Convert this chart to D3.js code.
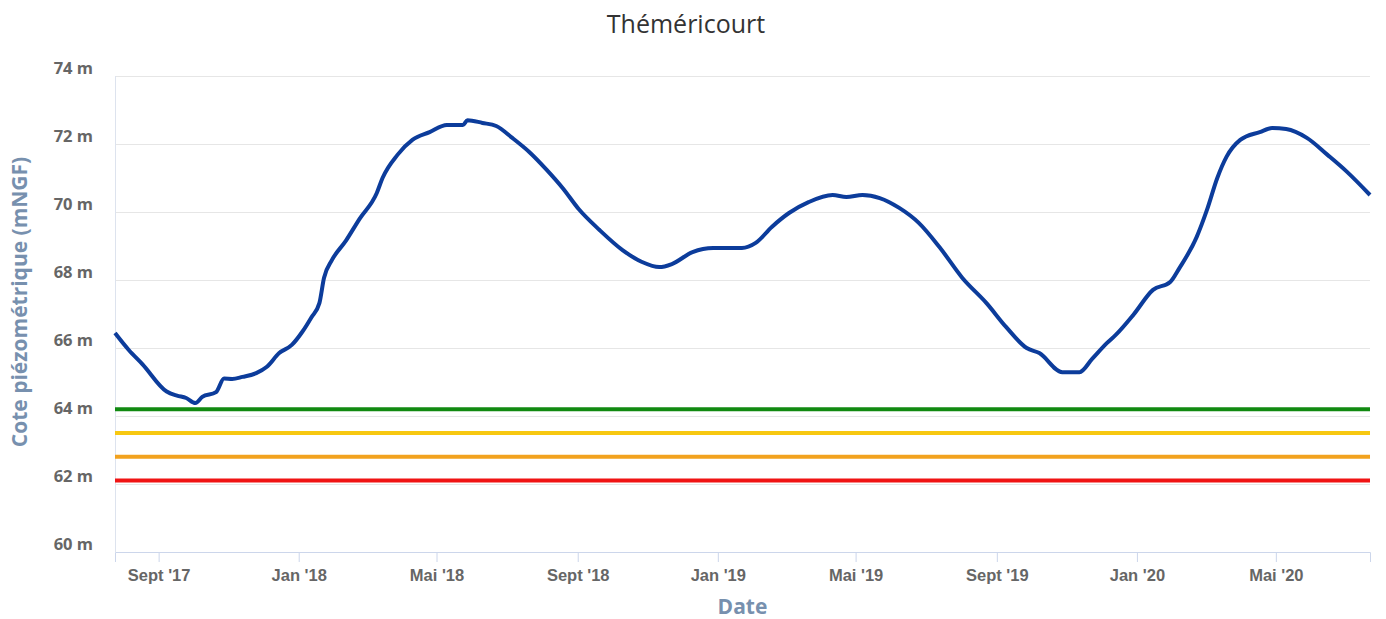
<!DOCTYPE html>
<html lang="fr">
<head>
<meta charset="UTF-8">
<title>Théméricourt</title>
<script src="https://d3js.org/d3.v7.min.js"></script>
<style>
    body { margin: 0; background: #fff; font-family: "Open Sans", Arial, sans-serif; }
    .grid line { stroke: #e6e6e6; stroke-width: 1px; }
    .tick-label { font-size: 16.5px; font-weight: bold; fill: #666; }
    .axis-title { font-size: 21px; font-weight: bold; fill: #7790ae; }
</style>
</head>
<body>
<svg width="1386" height="619"></svg>
<script>
    // niveau piézométrique relevé (date, m NGF)
    const dates = [
        "2017-07-25","2017-08-06","2017-08-18","2017-09-08","2017-09-17","2017-09-25","2017-10-03","2017-10-09",
        "2017-10-21","2017-10-28","2017-11-04","2017-11-13","2017-11-25","2017-12-04","2017-12-15",
        "2017-12-26","2018-01-04","2018-01-12","2018-01-19","2018-01-23","2018-01-30","2018-02-11",
        "2018-02-23","2018-03-10","2018-03-15","2018-03-28","2018-04-10","2018-04-25","2018-05-10",
        "2018-05-24","2018-05-28","2018-06-10","2018-06-22","2018-07-06","2018-07-21","2018-08-05",
        "2018-08-19","2018-09-02","2018-09-20","2018-10-10","2018-10-27","2018-11-11","2018-11-22",
        "2018-12-10","2018-12-28","2019-01-22","2019-02-03","2019-02-17","2019-03-04","2019-03-21",
        "2019-04-11","2019-04-23","2019-05-07","2019-05-22","2019-06-08","2019-06-25","2019-07-13",
        "2019-08-02","2019-08-23","2019-09-09","2019-09-27","2019-10-08","2019-10-28","2019-11-12",
        "2019-11-23","2019-12-06","2019-12-14","2019-12-29","2020-01-15","2020-01-30","2020-02-07",
        "2020-02-22","2020-03-02","2020-03-11","2020-03-19","2020-03-31","2020-04-17","2020-04-28",
        "2020-05-10","2020-05-28","2020-06-15","2020-07-02","2020-07-22"
    ];
    const levels = [
        66.44, 65.94, 65.52, 64.72, 64.60, 64.53, 64.38, 64.56,
        64.70, 65.10, 65.09, 65.15, 65.26, 65.44, 65.85,
        66.09, 66.47, 66.90, 67.32, 68.06, 68.59, 69.15,
        69.80, 70.56, 71.00, 71.68, 72.12, 72.35, 72.56,
        72.56, 72.70, 72.62, 72.53, 72.18, 71.76, 71.24,
        70.70, 70.08, 69.47, 68.88, 68.53, 68.38, 68.47,
        68.82, 68.94, 68.94, 69.09, 69.56, 69.97, 70.29,
        70.50, 70.44, 70.50, 70.41, 70.12, 69.68, 68.97,
        68.06, 67.32, 66.62, 66.00, 65.85, 65.29, 65.29,
        65.68, 66.15, 66.40, 66.98, 67.71, 67.94, 68.35,
        69.26, 70.06, 71.00, 71.62, 72.12, 72.35, 72.47,
        72.44, 72.18, 71.68, 71.18, 70.50
    ];

    // seuils de vigilance / alerte / alerte renforcée / crise
    const thresholdValues = [64.2, 63.5, 62.8, 62.1];
    const thresholdColors = ["#118a11", "#f7c811", "#f2a21e", "#f01414"];

    const yTicks = [60, 62, 64, 66, 68, 70, 72, 74];
    const xTicks = ["2017-09-01","2018-01-01","2018-05-01","2018-09-01","2019-01-01",
                    "2019-05-01","2019-09-01","2020-01-01","2020-05-01"];
    const xTickLabels = ["Sept '17","Jan '18","Mai '18","Sept '18","Jan '19",
                         "Mai '19","Sept '19","Jan '20","Mai '20"];

    const parse = d3.timeParse("%Y-%m-%d");
    const data = dates.map((d, i) => ({ date: parse(d), value: levels[i] }));

    const margin = { left: 115, right: 16, top: 76, bottom: 67 };
    const width = 1386, height = 619;
    const svg = d3.select("svg");

    const x = d3.scaleTime()
        .domain([parse("2017-07-25"), parse("2020-07-22")])
        .range([margin.left, width - margin.right]);
    const y = d3.scaleLinear()
        .domain([60, 74])
        .range([height - margin.bottom, margin.top]);

    // grille horizontale
    svg.append("g").attr("class", "grid")
        .selectAll("line")
        .data(yTicks.filter(v => v > 60))
        .enter().append("line")
        .attr("x1", margin.left).attr("x2", width - margin.right)
        .attr("y1", d => y(d) + 0.5).attr("y2", d => y(d) + 0.5);

    // axe y (ligne)
    svg.append("line")
        .attr("x1", margin.left + 0.5).attr("x2", margin.left + 0.5)
        .attr("y1", margin.top).attr("y2", y(60))
        .attr("stroke", "#dde3ee");

    svg.append("g")
        .selectAll("text")
        .data(yTicks)
        .enter().append("text")
        .attr("class", "tick-label")
        .attr("x", 93)
        .attr("y", d => y(d) - 2)
        .attr("text-anchor", "end")
        .text(d => d + " m");

    // axe x
    const xAxis = svg.append("g")
        .attr("transform", `translate(0,${y(60)})`)
        .call(d3.axisBottom(x)
            .tickValues(xTicks.map(parse))
            .tickSize(10)
            .tickFormat((d, i) => xTickLabels[i]));
    xAxis.select(".domain").attr("stroke", "#ccd6eb");
    xAxis.selectAll(".tick line").attr("stroke", "#ccd6eb");
    xAxis.selectAll(".tick text")
        .attr("class", "tick-label")
        .attr("y", 12)
        .attr("dy", "1em")
        .attr("font-family", null).attr("font-size", null).attr("fill", null);

    // seuils
    svg.append("g")
        .selectAll("line")
        .data(thresholdValues)
        .enter().append("line")
        .attr("x1", margin.left).attr("x2", width - margin.right)
        .attr("y1", d => y(d)).attr("y2", d => y(d))
        .attr("stroke", (d, i) => thresholdColors[i])
        .attr("stroke-width", 4);

    // courbe
    const line = d3.line()
        .x(d => x(d.date))
        .y(d => y(d.value))
        .curve(d3.curveMonotoneX);

    svg.append("path")
        .datum(data)
        .attr("fill", "none")
        .attr("stroke", "#0c3c9b")
        .attr("stroke-width", 4)
        .attr("stroke-linejoin", "round")
        .attr("d", line);

    // titres
    svg.append("text")
        .attr("x", 686).attr("y", 33)
        .attr("text-anchor", "middle")
        .attr("font-size", 25)
        .attr("fill", "#333")
        .text("Théméricourt");

    svg.append("text")
        .attr("class", "axis-title")
        .attr("x", (margin.left + width - margin.right) / 2)
        .attr("y", 614)
        .attr("text-anchor", "middle")
        .text("Date");

    svg.append("text")
        .attr("class", "axis-title")
        .attr("transform", `translate(27,302) rotate(-90)`)
        .attr("text-anchor", "middle")
        .text("Cote piézométrique (mNGF)");
</script>
</body>
</html>
